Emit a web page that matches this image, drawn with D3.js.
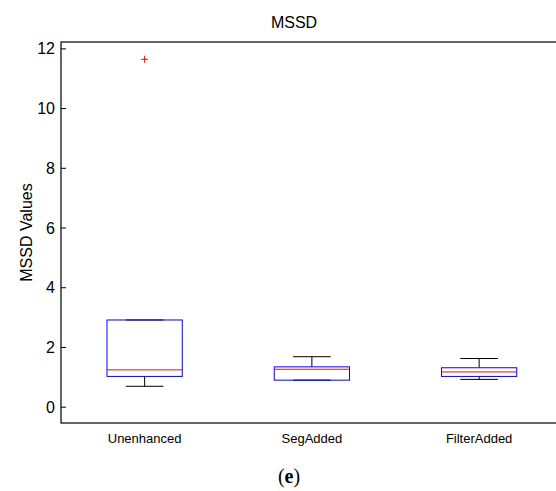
<!DOCTYPE html>
<html>
<head>
<meta charset="utf-8">
<script src="https://cdn.jsdelivr.net/npm/d3@7"></script>
<style>
  body { margin: 0; background: #fff; }
  text { font-family: "Liberation Sans", Arial, sans-serif; }
</style>
</head>
<body>
<div id="chart"></div>
<script>
// box statistics
var categories = ["Unenhanced", "SegAdded", "FilterAdded"];
var whiskerLow = [0.70, 0.905, 0.93];
var q1 = [1.03, 0.905, 1.03];
var medians = [1.25, 1.27, 1.18];
var q3 = [2.92, 1.35, 1.32];
var whiskerHigh = [2.92, 1.69, 1.63];
var outliers = [[11.65], [], []];
var yTicks = [0, 2, 4, 6, 8, 10, 12];

var W = 556, H = 491;
var margin = {left: 61, top: 42, bottom: 68};

var svg = d3.select("#chart").append("svg")
    .attr("width", W)
    .attr("height", H);

// x in "category index" units, like matlab boxplot (1..3), domain 0.5..3.5
// (the right part of the axes is cut off by the page edge)
var x = d3.scaleLinear().domain([0.5, 3.5]).range([margin.left, margin.left + 501.75]);
var y = d3.scaleLinear().domain([-0.53, 12.23]).range([H - margin.bottom, margin.top]);

var boxW = 0.45, capW = 0.225;

// axes frame
var x0 = x(0.5), x1 = x(3.5), yb = y(-0.53), yt = y(12.23);
svg.append("rect")
    .attr("x", x0).attr("y", yt)
    .attr("width", x1 - x0).attr("height", yb - yt)
    .attr("fill", "none").attr("stroke", "#000").attr("stroke-width", 1.2);

// y ticks (inward) and labels
var yAxis = svg.append("g");
yTicks.forEach(function(t) {
    yAxis.append("line")
        .attr("x1", x0).attr("x2", x0 + 5)
        .attr("y1", y(t)).attr("y2", y(t))
        .attr("stroke", "#000");
    yAxis.append("text")
        .attr("x", x0 - 6).attr("y", y(t))
        .attr("dy", "0.35em")
        .attr("text-anchor", "end")
        .attr("font-size", 16)
        .text(t);
});

// boxes
categories.forEach(function(c, i) {
    var cx = i + 1;
    var g = svg.append("g");
    // whiskers
    g.append("line")
        .attr("x1", x(cx)).attr("x2", x(cx))
        .attr("y1", y(q3[i])).attr("y2", y(whiskerHigh[i]))
        .attr("stroke", "#000");
    g.append("line")
        .attr("x1", x(cx)).attr("x2", x(cx))
        .attr("y1", y(q1[i])).attr("y2", y(whiskerLow[i]))
        .attr("stroke", "#000");
    // caps
    [whiskerLow[i], whiskerHigh[i]].forEach(function(v) {
        g.append("line")
            .attr("x1", x(cx - capW / 2)).attr("x2", x(cx + capW / 2))
            .attr("y1", y(v)).attr("y2", y(v))
            .attr("stroke", "#000");
    });
    // box
    g.append("rect")
        .attr("x", x(cx - boxW / 2))
        .attr("y", y(q3[i]))
        .attr("width", x(cx + boxW / 2) - x(cx - boxW / 2))
        .attr("height", y(q1[i]) - y(q3[i]))
        .attr("fill", "none")
        .attr("stroke", "#0000ff");
    // median
    g.append("line")
        .attr("x1", x(cx - boxW / 2)).attr("x2", x(cx + boxW / 2))
        .attr("y1", y(medians[i])).attr("y2", y(medians[i]))
        .attr("stroke", "#ff0000");
    // outliers
    outliers[i].forEach(function(v) {
        g.append("path")
            .attr("d", "M" + (x(cx) - 3.5) + "," + y(v) + "h7M" + x(cx) + "," + (y(v) - 3.5) + "v7")
            .attr("stroke", "#ff0000")
            .attr("fill", "none");
    });
    // category label
    svg.append("text")
        .attr("x", x(cx)).attr("y", yb + 20)
        .attr("text-anchor", "middle")
        .attr("font-size", 13)
        .text(c);
});

// title
svg.append("text")
    .attr("x", 294).attr("y", 28)
    .attr("text-anchor", "middle")
    .attr("font-size", 16)
    .text("MSSD");

// y label
svg.append("text")
    .attr("transform", "translate(32," + ((yt + yb) / 2) + ") rotate(-90)")
    .attr("text-anchor", "middle")
    .attr("font-size", 16)
    .text("MSSD Values");

// subfigure caption
svg.append("text")
    .attr("x", 289).attr("y", 483)
    .attr("text-anchor", "middle")
    .attr("font-size", 20)
    .style("font-family", "'Liberation Serif', 'DejaVu Serif', serif")
    .html("(<tspan font-weight='bold'>e</tspan>)");
</script>
</body>
</html>
